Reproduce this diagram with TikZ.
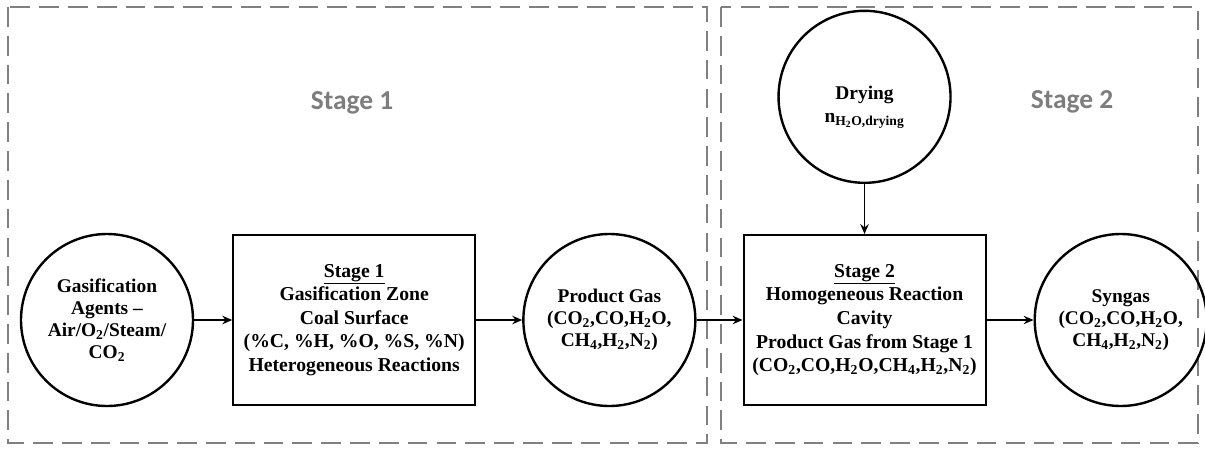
\documentclass[tikz,border=0pt]{standalone}
\usepackage{fontspec}
\setmainfont{Liberation Serif}
\newfontfamily\labelfont{Carlito}
\usetikzlibrary{positioning,arrows.meta}
\definecolor{frameGray}{RGB}{128,128,128}
\definecolor{labelGray}{RGB}{125,125,125}

\begin{document}
\begin{tikzpicture}[
    line width=1.2pt,
    stage box/.style={rectangle, draw=black, line width=1.4pt, minimum width=6.05cm, minimum height=4.25cm, inner sep=2pt, align=center, font=\fontsize{14}{16.8}\selectfont\bfseries},
    gas node/.style={circle, draw=black, line width=1.7pt, minimum size=4.3cm, inner sep=0pt, align=center, font=\fontsize{13.8}{15.5}\selectfont\bfseries},
    stage label/.style={font=\labelfont\fontsize{19.5}{22}\selectfont\bfseries, text=labelGray},
    frame line/.style={draw=frameGray, line width=1.7pt, dash pattern=on 14pt off 6.5pt},
    flow/.style={draw, line width=1.3pt, -{Stealth[length=7pt,width=6pt]}}
]
  \useasboundingbox (0,0) rectangle (30.125,-11.25);
  \draw[frame line] (0.2,-0.175) rectangle (17.675,-11.075);
  \draw[frame line] (18.025,-0.175) rectangle (29.95,-11.075);
  \node[stage label] (label1) at (8.8,-2.575) {Stage 1};
  \node[stage label] (label2) at (26.8,-2.55) {Stage 2};

  \node[gas node] (agents) at (2.675,-8) {Gasification\\Agents --\\Air/O\textsubscript{2}/Steam/\\CO\textsubscript{2}};
  \node[stage box] (zone) [right=0.95cm of agents] {\underline{Stage 1}\\Gasification Zone\\Coal Surface\\(\%C, \%H, \%O, \%S, \%N)\\Heterogeneous Reactions};
  \node[gas node] (product) [right=1.15cm of zone] {Product Gas\\(CO\textsubscript{2},CO,H\textsubscript{2}O,\\CH\textsubscript{4},H\textsubscript{2},N\textsubscript{2})};
  \node[stage box] (cavity) [right=1.15cm of product] {\underline{Stage 2}\\Homogeneous Reaction\\Cavity\\Product Gas from Stage 1\\(CO\textsubscript{2},CO,H\textsubscript{2}O,CH\textsubscript{4},H\textsubscript{2},N\textsubscript{2})};
  \node[gas node] (syngas) [right=1.175cm of cavity] {Syngas\\(CO\textsubscript{2},CO,H\textsubscript{2}O,\\CH\textsubscript{4},H\textsubscript{2},N\textsubscript{2})};
  \node[gas node] (drying) [above=1.25cm of cavity] {\rule{0pt}{24pt}Drying\\[1pt]n\textsubscript{H\textsubscript{2}O,drying}};

  \draw[flow] (agents) -- (zone);
  \draw[flow] (zone) -- (product);
  \draw[flow] (product) -- (cavity);
  \draw[flow] (cavity) -- (syngas);
  \draw[flow] (drying) -- (cavity);
\end{tikzpicture}
\end{document}
